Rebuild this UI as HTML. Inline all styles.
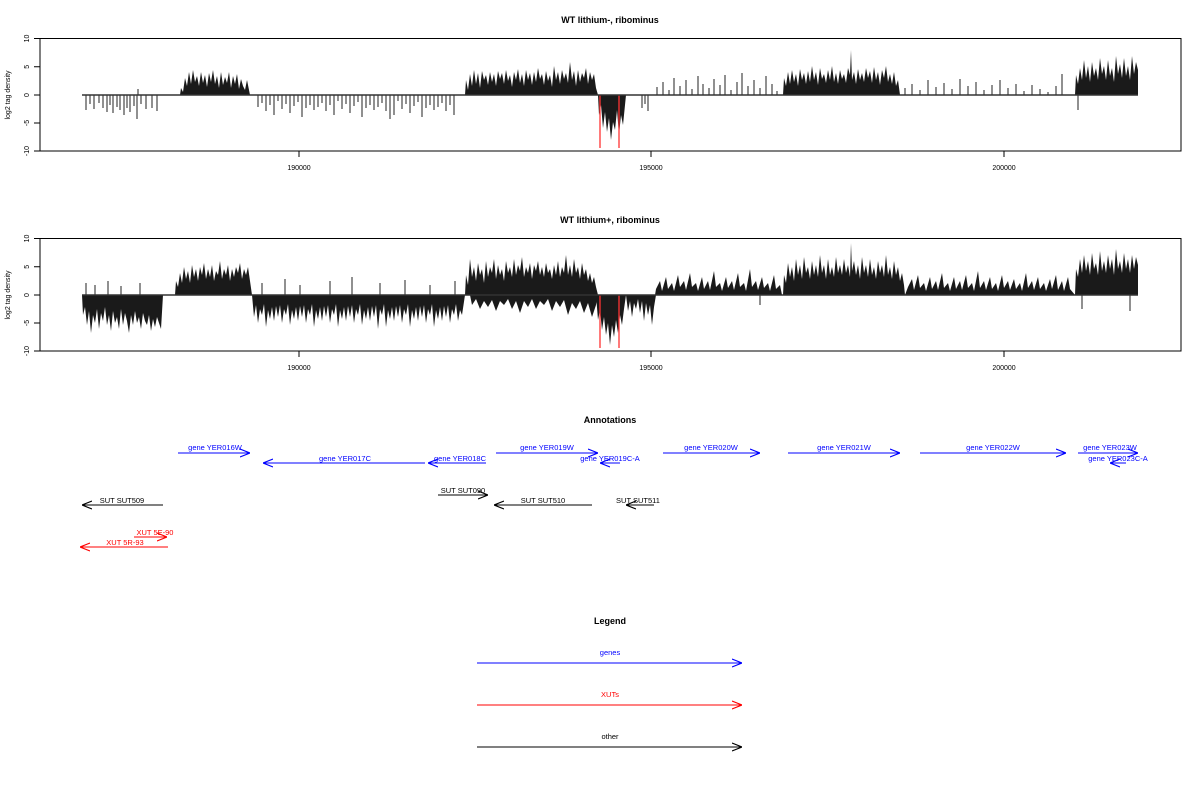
<!DOCTYPE html>
<html><head><meta charset="utf-8"><style>
html,body{margin:0;padding:0;background:#fff;}
svg{display:block;font-family:"Liberation Sans",sans-serif;}
</style></head><body>
<svg width="1200" height="800" xmlns="http://www.w3.org/2000/svg">
<defs>
<marker id="ab" viewBox="0 0 10 10" refX="10" refY="5" markerWidth="10" markerHeight="10" orient="auto" markerUnits="userSpaceOnUse"><path d="M0,1 L10,5 L0,9" fill="none" stroke="#00f" stroke-width="1.2"/></marker>
<marker id="ak" viewBox="0 0 10 10" refX="10" refY="5" markerWidth="10" markerHeight="10" orient="auto" markerUnits="userSpaceOnUse"><path d="M0,1 L10,5 L0,9" fill="none" stroke="#000" stroke-width="1.2"/></marker>
<marker id="ar" viewBox="0 0 10 10" refX="10" refY="5" markerWidth="10" markerHeight="10" orient="auto" markerUnits="userSpaceOnUse"><path d="M0,1 L10,5 L0,9" fill="none" stroke="#f00" stroke-width="1.2"/></marker>
</defs>

<!-- TOP PLOT -->
<g fill="#1a1a1a">
<path d="M86 95V110M90 95V104M94 95V109M99 95V103M103 95V108M107 95V112M110 95V105M113 95V113M117 95V107M120 95V110M124 95V115M127 95V108M130 95V112M134 95V106M137 95V119M141 95V104M146 95V109M152 95V108M157 95V111M138 95V89" stroke="#222" stroke-width="1"/>
<path d="M258 95V107M262 95V103M266 95V111M270 95V105M274 95V115M278 95V101M282 95V109M286 95V104M290 95V113M294 95V106M298 95V102M302 95V117M306 95V108M310 95V105M314 95V110M318 95V107M322 95V103M326 95V111M330 95V105M334 95V115M338 95V101M342 95V109M346 95V104M350 95V113M354 95V106M358 95V102M362 95V117M366 95V108M370 95V105M374 95V110M378 95V107M382 95V103M386 95V111M390 95V119M394 95V115M398 95V101M402 95V109M406 95V104M410 95V113M414 95V106M418 95V102M422 95V117M426 95V108M430 95V105M434 95V110M438 95V107M442 95V103M446 95V111M450 95V105M454 95V115" stroke="#222" stroke-width="1"/>
<polygon points="180,95 181,88 183,92 185,78 187,86 189,72 191,84 193,70 195,82 197,76 199,86 201,72 203,83 205,75 207,87 209,73 211,82 213,70 215,84 217,76 219,88 221,72 223,85 225,77 227,83 229,72 231,88 233,76 235,84 237,74 239,89 241,79 243,86 245,90 247,80 249,90 250,95"/>
<polygon points="465,95 466,80 468,90 470,74 472,86 474,70 476,84 478,73 480,88 482,71 484,80 486,75 488,85 490,72 492,82 494,74 496,86 498,71 500,79 502,73 504,84 506,70 508,81 510,75 512,87 514,72 516,80 518,69 520,83 522,74 524,86 526,70 528,80 530,73 532,85 534,72 536,82 538,68 540,79 542,74 544,85 546,71 548,81 550,75 552,87 554,66 556,80 558,72 560,84 562,70 564,79 566,73 568,83 570,62 572,80 574,71 576,86 578,70 580,82 582,73 584,78 586,68 588,84 590,72 592,80 594,74 596,88 598,95"/>
<polygon points="598,95 599,115 601,105 603,128 605,112 607,132 609,118 611,140 613,122 615,130 617,110 619,135 621,115 623,125 625,105 626,95"/>
<path d="M642 95V108M645 95V104M648 95V111M657 95V87M663 95V82M669 95V90M674 95V78M680 95V86M686 95V80M692 95V89M698 95V76M703 95V84M709 95V88M714 95V79M720 95V85M725 95V75M731 95V90M737 95V82M742 95V73M748 95V86M754 95V80M760 95V88M766 95V76M772 95V84M777 95V91M905 95V88M912 95V84M920 95V90M928 95V80M936 95V87M944 95V83M952 95V89M960 95V79M968 95V86M976 95V82M984 95V90M992 95V85M1000 95V80M1008 95V88M1016 95V84M1024 95V91M1032 95V85M1040 95V89M1048 95V92M1056 95V86M1062 95V74M1078 95V110" stroke="#222" stroke-width="1"/>
<polygon points="783,95 784,78 786,86 788,72 790,84 792,70 794,82 796,74 798,86 800,69 802,80 804,73 806,84 808,71 810,82 812,66 814,80 816,72 818,85 820,68 822,79 824,74 826,83 828,70 830,80 832,66 834,82 836,73 838,84 840,70 842,79 844,74 846,83 848,68 850,75 851,50 852,80 854,72 856,84 858,69 860,80 862,73 864,82 866,68 868,78 870,71 872,83 874,67 876,80 878,72 880,85 882,70 884,78 886,66 888,82 890,74 892,84 894,72 896,86 898,80 900,95"/>
<polygon points="1075,95 1076,75 1078,84 1080,68 1082,80 1084,60 1086,78 1088,66 1090,82 1092,62 1094,76 1096,68 1098,80 1100,58 1102,74 1104,66 1106,80 1108,60 1110,76 1112,68 1114,82 1116,56 1118,74 1120,64 1122,78 1124,58 1126,76 1128,66 1130,80 1132,56 1134,74 1136,62 1138,70 1138,95"/>
<path d="M600 95V148M619 95V148" stroke="#f33" stroke-width="1.3"/>
<line x1="82" y1="95" x2="1138" y2="95" stroke="#333" stroke-width="1.5"/>
</g>

<!-- BOTTOM PLOT -->
<g transform="translate(0,295)" fill="#1a1a1a">
<polygon points="82,0 83,20 85,12 87,30 89,16 91,38 93,20 95,28 97,14 99,34 101,18 103,26 105,12 107,30 109,20 111,36 113,16 115,28 117,22 119,34 121,14 123,30 125,18 127,26 129,38 131,20 133,30 135,16 137,28 139,22 141,34 143,18 145,26 147,30 149,20 151,36 153,24 155,32 157,22 159,28 161,34 163,0"/>
<polygon points="175,0 176,-14 178,-8 180,-22 182,-12 184,-28 186,-16 188,-24 190,-12 192,-30 194,-18 196,-26 198,-14 200,-28 202,-20 204,-32 206,-16 208,-26 210,-18 212,-30 214,-14 216,-24 218,-20 220,-34 222,-16 224,-26 226,-20 228,-30 230,-14 232,-26 234,-18 236,-28 238,-22 240,-32 242,-16 244,-26 246,-20 248,-28 250,-14 252,0"/>
<polygon points="252,0 254,22 256,10 258,28 260,14 262,20 264,9 266,32 268,15 270,24 272,12 274,26 276,11 278,22 280,10 282,28 284,14 286,20 288,9 290,30 292,15 294,24 296,12 298,26 300,11 302,22 304,10 306,28 308,14 310,20 312,9 314,32 316,15 318,24 320,12 322,26 324,11 326,22 328,10 330,28 332,14 334,20 336,9 338,32 340,15 342,24 344,12 346,26 348,11 350,22 352,10 354,28 356,14 358,20 360,9 362,30 364,15 366,24 368,12 370,26 372,11 374,22 376,10 378,34 380,14 382,20 384,9 386,32 388,15 390,24 392,12 394,26 396,11 398,22 400,10 402,28 404,14 406,20 408,9 410,32 412,15 414,24 416,12 418,26 420,11 422,22 424,10 426,28 428,14 430,20 432,9 434,32 436,15 438,24 440,12 442,26 444,11 446,22 448,10 450,28 452,14 454,20 456,9 458,26 460,15 462,20 465,0"/>
<path d="M86 0V-12M95 0V-10M108 0V-14M121 0V-9M140 0V-12M262 0V-12M285 0V-16M300 0V-10M330 0V-14M352 0V-18M380 0V-12M405 0V-15M430 0V-10M455 0V-14M760 0V10M1082 0V14M1130 0V16" stroke="#222" stroke-width="1"/>
<polygon points="465,0 466,-20 468,-10 470,-36 472,-18 474,-28 476,-14 478,-32 480,-20 482,-26 484,-12 486,-34 488,-18 490,-28 492,-22 494,-36 496,-16 498,-30 500,-20 502,-26 504,-14 506,-34 508,-22 510,-28 512,-18 514,-36 516,-20 518,-30 520,-24 522,-38 524,-18 526,-28 528,-22 530,-32 532,-16 534,-30 536,-24 538,-34 540,-20 542,-28 544,-18 546,-32 548,-22 550,-26 552,-16 554,-30 556,-20 558,-34 560,-18 562,-28 564,-22 566,-40 568,-20 570,-30 572,-18 574,-36 576,-22 578,-28 580,-16 582,-32 584,-20 586,-26 588,-14 590,-22 592,-12 594,-18 596,-8 598,0"/>
<polygon points="470,0 472,10 476,4 480,14 484,6 488,12 492,5 496,16 500,6 504,10 508,4 512,14 516,6 520,18 524,6 528,12 532,4 536,14 540,6 544,10 548,4 552,16 556,6 560,12 564,5 568,20 572,8 576,14 580,6 584,18 588,8 592,22 596,10 598,0"/>
<polygon points="596,0 598,25 600,15 602,35 604,22 606,40 608,28 610,50 612,30 614,42 616,25 618,38 620,20 622,30 624,14 626,0"/>
<polygon points="626,0 628,16 630,6 632,22 634,8 636,14 638,4 640,18 642,6 644,26 646,8 648,20 650,10 652,30 654,12 656,0"/>
<polygon points="655,0 656,-6 660,-14 662,-4 666,-18 668,-6 672,-12 674,-4 678,-20 680,-8 684,-14 686,-5 690,-22 692,-8 696,-12 698,-4 702,-18 704,-6 708,-14 710,-5 714,-24 716,-8 720,-12 722,-4 726,-18 728,-7 732,-14 734,-5 738,-22 740,-8 744,-12 746,-4 750,-26 752,-8 756,-14 758,-5 762,-18 764,-7 768,-12 770,-4 774,-20 776,-6 780,-10 782,0"/>
<polygon points="783,0 784,-20 786,-12 788,-32 790,-18 792,-28 794,-14 796,-36 798,-20 800,-30 802,-16 804,-38 806,-22 808,-28 810,-16 812,-34 814,-20 816,-30 818,-18 820,-40 822,-22 824,-30 826,-16 828,-36 830,-20 832,-28 834,-18 836,-38 838,-22 840,-30 842,-20 844,-36 846,-22 848,-30 850,-18 851,-52 852,-24 854,-34 856,-20 858,-30 860,-16 862,-38 864,-22 866,-30 868,-18 870,-36 872,-20 874,-28 876,-16 878,-34 880,-22 882,-30 884,-18 886,-40 888,-20 890,-28 892,-16 894,-34 896,-20 898,-28 900,-14 902,-22 904,-10 905,0"/>
<polygon points="905,0 908,-8 912,-16 914,-5 918,-20 920,-7 924,-12 926,-4 930,-18 932,-6 936,-14 938,-5 942,-22 944,-7 948,-12 950,-4 954,-18 956,-6 960,-14 962,-5 966,-20 968,-7 972,-12 974,-4 978,-24 980,-7 984,-14 986,-5 990,-18 992,-6 996,-12 998,-4 1002,-20 1004,-7 1008,-14 1010,-5 1014,-16 1016,-6 1020,-12 1022,-4 1026,-22 1028,-7 1032,-14 1034,-5 1038,-18 1040,-6 1044,-12 1046,-4 1050,-16 1052,-6 1056,-20 1058,-5 1062,-14 1064,-4 1068,-18 1070,-6 1075,0"/>
<polygon points="1075,0 1076,-26 1078,-18 1080,-36 1082,-22 1084,-40 1086,-24 1088,-34 1090,-20 1092,-42 1094,-26 1096,-32 1098,-20 1100,-44 1102,-24 1104,-34 1106,-22 1108,-40 1110,-26 1112,-36 1114,-20 1116,-46 1118,-26 1120,-34 1122,-22 1124,-42 1126,-26 1128,-36 1130,-22 1132,-40 1134,-26 1136,-38 1138,-30 1138,0"/>
<path d="M600 0V53M619 0V53" stroke="#f33" stroke-width="1.3"/>
<line x1="82" y1="0" x2="1138" y2="0" stroke="#333" stroke-width="1.5"/>
</g>

<!-- AXES -->
<g stroke="#000" stroke-width="1" fill="none">
<rect x="40" y="38.5" width="1141" height="112.5"/>
<rect x="40" y="238.5" width="1141" height="112.5"/>
<path d="M34 38.5H40M34 66.75H40M34 95H40M34 123H40M34 151H40M34 238.5H40M34 266.75H40M34 295H40M34 323H40M34 351H40"/>
<path d="M299 151V157M651 151V157M1004 151V157M299 351V357M651 351V357M1004 351V357"/>
</g>
<g font-size="7" text-anchor="middle" fill="#000">
<text transform="translate(29,38.5) rotate(-90)">10</text>
<text transform="translate(29,66.75) rotate(-90)">5</text>
<text transform="translate(29,95) rotate(-90)">0</text>
<text transform="translate(29,123) rotate(-90)">-5</text>
<text transform="translate(29,151) rotate(-90)">-10</text>
<text transform="translate(29,238.5) rotate(-90)">10</text>
<text transform="translate(29,266.75) rotate(-90)">5</text>
<text transform="translate(29,295) rotate(-90)">0</text>
<text transform="translate(29,323) rotate(-90)">-5</text>
<text transform="translate(29,351) rotate(-90)">-10</text>
<text transform="translate(10,95) rotate(-90)">log2 tag density</text>
<text transform="translate(10,295) rotate(-90)">log2 tag density</text>
<text x="299" y="170">190000</text><text x="651" y="170">195000</text><text x="1004" y="170">200000</text>
<text x="299" y="370">190000</text><text x="651" y="370">195000</text><text x="1004" y="370">200000</text>
</g>

<g font-size="9" font-weight="bold" text-anchor="middle">
<text x="610" y="23">WT lithium-, ribominus</text>
<text x="610" y="223">WT lithium+, ribominus</text>
<text x="610" y="423">Annotations</text>
<text x="610" y="624">Legend</text>
</g>
<g font-size="7.5" text-anchor="middle" fill="#00f">
<line x1="178" y1="453" x2="250" y2="453" stroke="#00f" marker-end="url(#ab)"/><text x="215" y="450">gene YER016W</text>
<line x1="425" y1="463" x2="263" y2="463" stroke="#00f" marker-end="url(#ab)"/><text x="345" y="461">gene YER017C</text>
<line x1="486" y1="463" x2="428" y2="463" stroke="#00f" marker-end="url(#ab)"/><text x="460" y="461">gene YER018C</text>
<line x1="496" y1="453" x2="598" y2="453" stroke="#00f" marker-end="url(#ab)"/><text x="547" y="450">gene YER019W</text>
<line x1="620" y1="463" x2="600" y2="463" stroke="#00f" marker-end="url(#ab)"/><text x="610" y="461">gene YER019C-A</text>
<line x1="663" y1="453" x2="760" y2="453" stroke="#00f" marker-end="url(#ab)"/><text x="711" y="450">gene YER020W</text>
<line x1="788" y1="453" x2="900" y2="453" stroke="#00f" marker-end="url(#ab)"/><text x="844" y="450">gene YER021W</text>
<line x1="920" y1="453" x2="1066" y2="453" stroke="#00f" marker-end="url(#ab)"/><text x="993" y="450">gene YER022W</text>
<line x1="1078" y1="453" x2="1138" y2="453" stroke="#00f" marker-end="url(#ab)"/><text x="1110" y="450">gene YER023W</text>
<line x1="1126" y1="463" x2="1110" y2="463" stroke="#00f" marker-end="url(#ab)"/><text x="1118" y="461">gene YER023C-A</text>
</g>
<g font-size="7.5" text-anchor="middle" fill="#000">
<line x1="163" y1="505" x2="82" y2="505" stroke="#000" marker-end="url(#ak)"/><text x="122" y="503">SUT SUT509</text>
<line x1="438" y1="495" x2="488" y2="495" stroke="#000" marker-end="url(#ak)"/><text x="463" y="493">SUT SUT090</text>
<line x1="592" y1="505" x2="494" y2="505" stroke="#000" marker-end="url(#ak)"/><text x="543" y="503">SUT SUT510</text>
<line x1="654" y1="505" x2="626" y2="505" stroke="#000" marker-end="url(#ak)"/><text x="638" y="503">SUT SUT511</text>
</g>
<g font-size="7.5" text-anchor="middle" fill="#f00">
<line x1="134" y1="537" x2="167" y2="537" stroke="#f00" marker-end="url(#ar)"/><text x="155" y="535">XUT 5E-90</text>
<line x1="168" y1="547" x2="80" y2="547" stroke="#f00" marker-end="url(#ar)"/><text x="125" y="545">XUT 5R-93</text>
</g>
<g font-size="7.5" text-anchor="middle">
<line x1="477" y1="663" x2="742" y2="663" stroke="#00f" marker-end="url(#ab)"/><text x="610" y="655" fill="#00f">genes</text>
<line x1="477" y1="705" x2="742" y2="705" stroke="#f00" marker-end="url(#ar)"/><text x="610" y="697" fill="#f00">XUTs</text>
<line x1="477" y1="747" x2="742" y2="747" stroke="#000" marker-end="url(#ak)"/><text x="610" y="739">other</text>
</g>
</svg>
</body></html>
